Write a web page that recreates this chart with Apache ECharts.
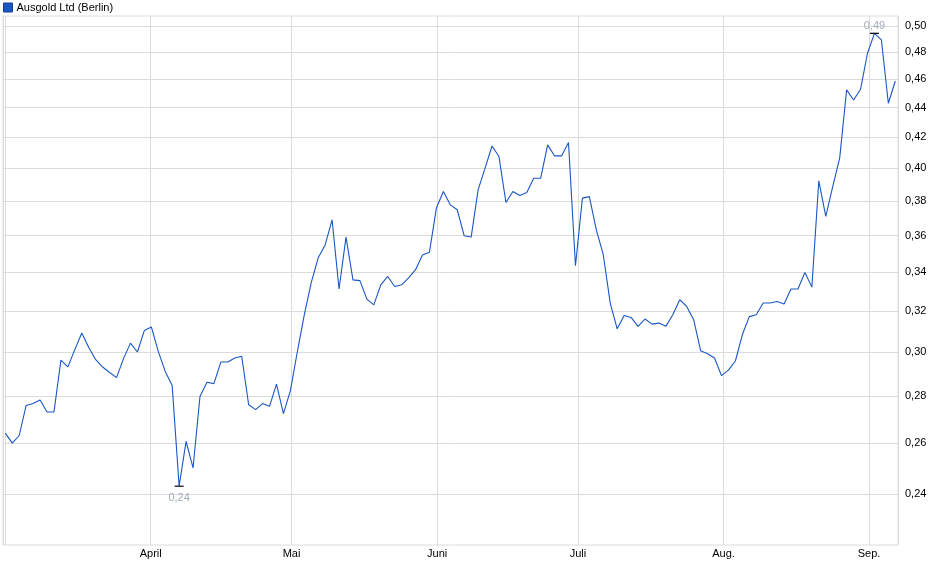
<!DOCTYPE html>
<html>
<head>
<meta charset="utf-8">
<script src="https://cdn.jsdelivr.net/npm/echarts@6/dist/echarts.min.js"></script>
<style>
  html, body { margin: 0; padding: 0; background: #fff; }
  #chart { width: 940px; height: 579px; }
</style>
</head>
<body>
<div id="chart"></div>
<script>
// ---- data ----
const seriesName = 'Ausgold Ltd (Berlin)';
const prices = [
  0.2642, 0.2601, 0.2632, 0.2759, 0.2767, 0.2783, 0.2731, 0.2731, 0.2962, 0.2931,
  0.3011, 0.3091, 0.3021, 0.2964, 0.2930, 0.2905, 0.2882, 0.2969, 0.3042, 0.3000,
  0.3103, 0.3120, 0.3003, 0.2910, 0.2846, 0.2431, 0.2608, 0.2502, 0.2798, 0.2861,
  0.2855, 0.2953, 0.2953, 0.2972, 0.2980, 0.2762, 0.2741, 0.2767, 0.2755, 0.2853,
  0.2724, 0.2824, 0.3001, 0.3180, 0.3344, 0.3477, 0.3548, 0.3690, 0.3311, 0.3592,
  0.3359, 0.3355, 0.3259, 0.3230, 0.3333, 0.3377, 0.3324, 0.3333, 0.3369, 0.3413,
  0.3492, 0.3508, 0.3759, 0.3858, 0.3778, 0.3749, 0.3599, 0.3592, 0.3868, 0.4002,
  0.4143, 0.4075, 0.3792, 0.3858, 0.3834, 0.3852, 0.3939, 0.3939, 0.4150, 0.4079,
  0.4079, 0.4165, 0.3434, 0.3818, 0.3827, 0.3633, 0.3494, 0.3239, 0.3111, 0.3177,
  0.3167, 0.3123, 0.3159, 0.3134, 0.3139, 0.3123, 0.3180, 0.3256, 0.3222, 0.3156,
  0.3006, 0.2992, 0.2972, 0.2891, 0.2916, 0.2958, 0.3082, 0.3171, 0.3180, 0.3239,
  0.3239, 0.3247, 0.3234, 0.3311, 0.3311, 0.3398, 0.3321, 0.3923, 0.3710, 0.3888,
  0.4065, 0.4524, 0.4453, 0.4528, 0.4791, 0.4943, 0.4892, 0.4430, 0.4587
];
const pointIndex = prices.map((_, i) => String(i));
const yTickValues = [0.24, 0.26, 0.28, 0.30, 0.32, 0.34, 0.36, 0.38, 0.40, 0.42, 0.44, 0.46, 0.48, 0.50];
const monthNames = ['Jan.', 'Feb.', 'März', 'April', 'Mai', 'Juni', 'Juli', 'Aug.', 'Sep.', 'Okt.', 'Nov.', 'Dez.'];
const dateStart = new Date(2024, 1, 29, 13, 0, 0).getTime();
const dateEnd = new Date(2024, 8, 7, 4, 0, 0).getTime();
const yMin = 0.2217;
const yMax = 0.5079;

const fmt = v => Number(v).toFixed(2).replace('.', ',');
const FONT = '"Liberation Sans", Arial, sans-serif';
const GRID_COLOR = '#dcdcdc';
const DAY = 86400000;

const chart = echarts.init(document.getElementById('chart'), null, { renderer: 'canvas' });
chart.setOption({
  animation: false,
  textStyle: { fontFamily: FONT },
  legend: {
    left: 3, top: 2, padding: 0,
    icon: 'rect',
    itemWidth: 9, itemHeight: 9, itemGap: 4,
    itemStyle: { borderColor: '#1b3f8f', borderWidth: 1 },
    textStyle: { fontSize: 11, color: '#000', fontFamily: FONT, padding: [0, 0, 0, -1] },
    data: [seriesName]
  },
  grid: [
    { left: 3, right: 42, top: 16, bottom: 34, outerBoundsMode: 'none', containLabel: false,
      show: true, borderColor: GRID_COLOR, borderWidth: 1, backgroundColor: 'transparent' },
    { left: 5.3, right: 44.7, top: 16, bottom: 34, outerBoundsMode: 'none', containLabel: false }
  ],
  xAxis: [
    {
      type: 'time', gridIndex: 0,
      min: dateStart, max: dateEnd,
      splitNumber: 6,
      axisLine: { show: false },
      axisTick: { show: false },
      splitLine: { show: true, lineStyle: { color: GRID_COLOR, width: 1 } },
      axisLabel: {
        showMinLabel: false,
        color: '#000', fontSize: 11, fontFamily: FONT, margin: 3,
        formatter: v => (v - dateStart < 3 * DAY ? '' : monthNames[new Date(v).getMonth()])
      }
    },
    {
      type: 'category', gridIndex: 1, data: pointIndex, boundaryGap: false,
      show: false
    }
  ],
  yAxis: [
    {
      type: 'log', gridIndex: 0, logBase: 10,
      min: yMin, max: yMax,
      position: 'right',
      axisLine: { show: false },
      axisTick: { show: false, customValues: yTickValues },
      splitLine: { show: true, lineStyle: { color: GRID_COLOR, width: 1 } },
      axisLabel: {
        customValues: yTickValues,
        color: '#000', fontSize: 11, fontFamily: FONT, margin: 7,
        formatter: v => fmt(v)
      }
    },
    {
      type: 'log', gridIndex: 1, logBase: 10,
      min: yMin, max: yMax, show: false,
      splitLine: { show: false }
    }
  ],
  series: [{
    name: seriesName,
    type: 'line',
    xAxisIndex: 1, yAxisIndex: 1,
    data: prices,
    symbol: 'none',
    lineStyle: { color: '#1a56c4', width: 1.1 },
    itemStyle: { color: '#1a56c4' },
    markPoint: {
      symbol: 'rect',
      symbolSize: [9, 1.2],
      itemStyle: { color: '#000' },
      label: { fontSize: 11, color: '#a3abb8', fontFamily: FONT, formatter: p => fmt(p.value) },
      data: [
        { type: 'max', label: { position: 'top', distance: 1 } },
        { type: 'min', label: { position: 'bottom', distance: 6 } }
      ]
    }
  }]
});
</script>
</body>
</html>
